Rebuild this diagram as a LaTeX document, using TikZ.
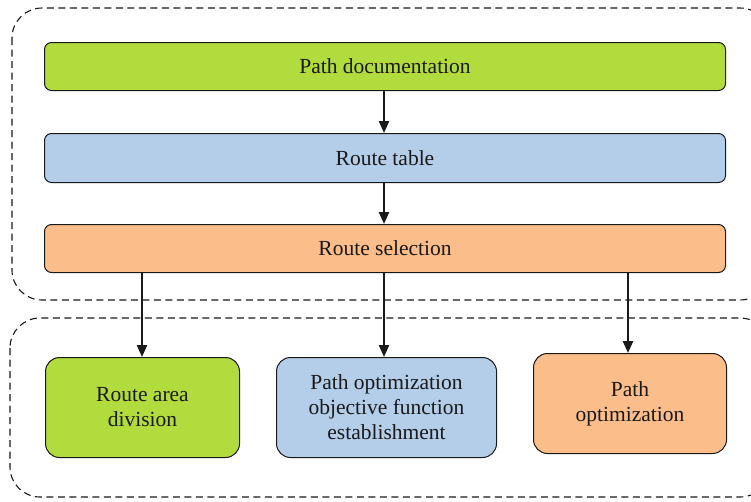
\documentclass[tikz,border=0pt]{standalone}
\usepackage{fontspec}
\setmainfont{Liberation Serif}
\usetikzlibrary{arrows.meta}
\definecolor{cgreen}{RGB}{178,219,62}
\definecolor{cblue}{RGB}{180,206,234}
\definecolor{corange}{RGB}{251,189,138}
\definecolor{cline}{RGB}{25,25,25}
\tikzset{
  box/.style={draw=cline, line width=1pt, rounded corners=6pt, inner sep=0pt, anchor=north west,
    font=\fontsize{21.5}{25}\selectfont, text=black!90, align=center},
  bigbox/.style={box, rounded corners=7pt},
  smallbox/.style={box, rounded corners=14pt},
  grp/.style={draw=cline, line width=1.1pt, dash pattern=on 7pt off 4.5pt, rounded corners=30pt},
  arr/.style={draw=cline, line width=2.3pt, -{Triangle[length=12pt,width=10pt]}},
}
\begin{document}
\begin{tikzpicture}[x=1pt,y=-1pt]
\clip (0,0) rectangle (751,501);
\fill[white] (0,0) rectangle (751,501);
\draw[grp] (12,8) rectangle (770,300);
\draw[grp] (10,318) rectangle (770,497);
\node[bigbox, fill=cgreen, minimum width=681pt, minimum height=48pt] (doc) at (44,42) {Path documentation};
\node[bigbox, fill=cblue, minimum width=681pt, minimum height=49pt] (table) at (44,133) {Route table};
\node[bigbox, fill=corange, minimum width=681pt, minimum height=48pt] (sel) at (44,224) {Route selection};
\node[smallbox, fill=cgreen, minimum width=194pt, minimum height=100pt] (area) at (45,357) {Route area\\division};
\node[smallbox, fill=cblue, minimum width=220pt, minimum height=100pt] (obj) at (276,357) {Path optimization\\objective function\\establishment};
\node[smallbox, fill=corange, minimum width=193pt, minimum height=100pt] (opt) at (533,353) {Path\\optimization};
\coordinate (s1) at (142,272);
\coordinate (s2) at (384,272);
\coordinate (s3) at (628,272);
\draw[arr] (doc.south -| s2) -- (table.north -| s2);
\draw[arr] (table.south -| s2) -- (sel.north -| s2);
\draw[arr] (s1) -- (area.north -| s1);
\draw[arr] (s2) -- (obj.north -| s2);
\draw[arr] (s3) -- (opt.north -| s3);
\end{tikzpicture}
\end{document}
